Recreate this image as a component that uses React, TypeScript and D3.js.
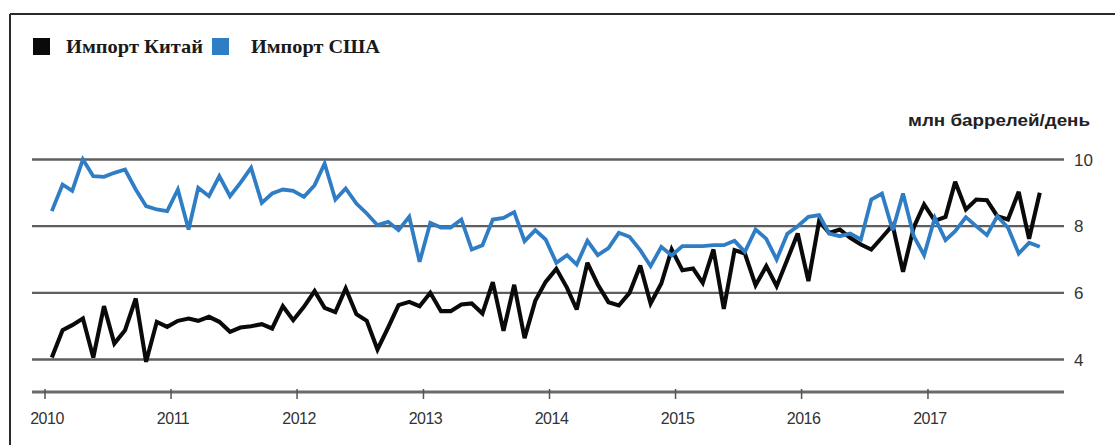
import React from "react";
import * as d3 from "d3";

// Monthly values, Jan 2010 – Nov 2017 (million barrels per day)
const chinaImports: number[] = [
  4.06, 4.88, 5.03, 5.23, 4.06, 5.6, 4.48, 4.88, 5.83, 3.93, 5.13, 4.98,
  5.16, 5.23, 5.16, 5.28, 5.13, 4.83, 4.96, 5.0, 5.06, 4.93, 5.6, 5.18,
  5.58, 6.05, 5.55, 5.42, 6.13, 5.36, 5.16, 4.3, 4.96, 5.63, 5.73, 5.6,
  6.0, 5.45, 5.45, 5.65, 5.68, 5.38, 6.32, 4.86, 6.24, 4.64, 5.76, 6.33,
  6.72, 6.15, 5.5, 6.9, 6.25, 5.72, 5.62, 6.0, 6.82, 5.68, 6.28, 7.3,
  6.68, 6.73, 6.3, 7.3, 5.52, 7.28, 7.18, 6.23, 6.8, 6.2, 7.0, 7.78,
  6.35, 8.15, 7.8, 7.9, 7.65, 7.45, 7.3, 7.66, 8.03, 6.63, 7.96, 8.65,
  8.16, 8.28, 9.33, 8.5, 8.8, 8.78, 8.3, 8.2, 9.03, 7.62, 9.0,
];

const usImports: number[] = [
  8.45, 9.25, 9.06, 10.0, 9.5, 9.48, 9.6, 9.7, 9.1, 8.6, 8.5, 8.45,
  9.1, 7.9, 9.15, 8.9, 9.5, 8.9, 9.3, 9.75, 8.7, 8.98, 9.1, 9.06,
  8.88, 9.23, 9.88, 8.8, 9.13, 8.68, 8.38, 8.03, 8.13, 7.88, 8.28, 6.93,
  8.1, 7.96, 7.96, 8.2, 7.3, 7.43, 8.2, 8.25, 8.42, 7.55, 7.88, 7.6,
  6.9, 7.13, 6.85, 7.56, 7.13, 7.34, 7.8, 7.68, 7.28, 6.8, 7.38, 7.12,
  7.4, 7.4, 7.4, 7.43, 7.43, 7.56, 7.23, 7.9, 7.62, 7.0, 7.77, 8.0,
  8.28, 8.33, 7.78, 7.7, 7.78, 7.6, 8.8, 8.98, 7.88, 8.98, 7.7, 7.13,
  8.25, 7.58, 7.85, 8.27, 8.0, 7.73, 8.3, 7.95, 7.18, 7.5, 7.38,
];

const yearTicks: number[] = [2010, 2011, 2012, 2013, 2014, 2015, 2016, 2017];
const valueTicks: number[] = [4, 6, 8, 10];
const legendLabels: string[] = ["Импорт Китай", "Импорт США"];
const unitLabel = "млн баррелей/день";

const BLUE = "#2f7dc5";
const BLACK = "#0a0a0a";

export default function App() {
  const W = 1115;
  const H = 445;

  const x = d3
    .scaleTime()
    .domain([new Date(2010, 0, 1), new Date(2018, 0, 1)])
    .range([47, 1056]);
  const y = d3.scaleLinear().domain([4, 10]).range([359.5, 159.5]);

  const dateOf = (i: number) => new Date(2010, i, 15);

  const line = d3
    .line<number>()
    .x((_, i) => x(dateOf(i)))
    .y((d) => y(d));

  const gridX0 = 32;
  const gridX1 = 1064;
  const axisY = 392;

  return (
    <svg
      width={W}
      height={H}
      style={{ position: "absolute", left: 0, top: 0, background: "#fff" }}
    >
      {/* frame */}
      <line x1={10} y1={14} x2={W} y2={14} stroke="#2a2a2a" strokeWidth={2} />
      <line x1={10} y1={14} x2={10} y2={H} stroke="#2a2a2a" strokeWidth={2} />

      {/* legend */}
      <rect x={33} y={38} width={17} height={17} fill={BLACK} />
      <text
        x={66}
        y={53}
        fontFamily="'Liberation Serif', 'Times New Roman', serif"
        fontWeight="bold"
        fontSize={19}
        fill="#1a1a1a"
        textLength={137}
        lengthAdjust="spacingAndGlyphs"
      >
        {legendLabels[0]}
      </text>
      <rect x={212} y={38} width={17} height={17} fill={BLUE} />
      <text
        x={251}
        y={53}
        fontFamily="'Liberation Serif', 'Times New Roman', serif"
        fontWeight="bold"
        fontSize={19}
        fill="#1a1a1a"
        textLength={129}
        lengthAdjust="spacingAndGlyphs"
      >
        {legendLabels[1]}
      </text>

      {/* unit label */}
      <text
        x={1090}
        y={126}
        textAnchor="end"
        fontFamily="'Liberation Sans', Arial, sans-serif"
        fontWeight="bold"
        fontSize={16}
        fill="#222"
        textLength={182}
        lengthAdjust="spacingAndGlyphs"
      >
        {unitLabel}
      </text>

      {/* gridlines + y labels */}
      {valueTicks.map((v) => (
        <g key={v}>
          <line
            x1={gridX0}
            x2={gridX1}
            y1={y(v)}
            y2={y(v)}
            stroke="#5e5e5e"
            strokeWidth={2.4}
          />
          <text
            x={1074}
            y={y(v) + 6}
            fontFamily="'Liberation Sans', Arial, sans-serif"
            fontSize={17}
            fill="#333"
          >
            {v}
          </text>
        </g>
      ))}

      {/* x axis */}
      <line
        x1={gridX0}
        x2={gridX1}
        y1={axisY}
        y2={axisY}
        stroke="#6a6a6a"
        strokeWidth={3}
      />
      {yearTicks.map((yr) => {
        const px = x(new Date(yr, 0, 1)) - 2;
        return (
          <g key={yr}>
            <line
              x1={px}
              x2={px}
              y1={axisY - 3}
              y2={axisY + 7}
              stroke="#555"
              strokeWidth={1.5}
            />
            <text
              x={px + 2}
              y={424}
              textAnchor="middle"
              fontFamily="'Liberation Sans', Arial, sans-serif"
              fontSize={16}
              fill="#333"
              letterSpacing={-0.5}
            >
              {yr}
            </text>
          </g>
        );
      })}

      {/* series */}
      <path
        d={line(chinaImports) ?? ""}
        fill="none"
        stroke={BLACK}
        strokeWidth={4.1}
        strokeLinejoin="miter"
        strokeMiterlimit={3}
      />
      <path
        d={line(usImports) ?? ""}
        fill="none"
        stroke={BLUE}
        strokeWidth={3.8}
        strokeLinejoin="miter"
        strokeMiterlimit={3}
      />
    </svg>
  );
}
